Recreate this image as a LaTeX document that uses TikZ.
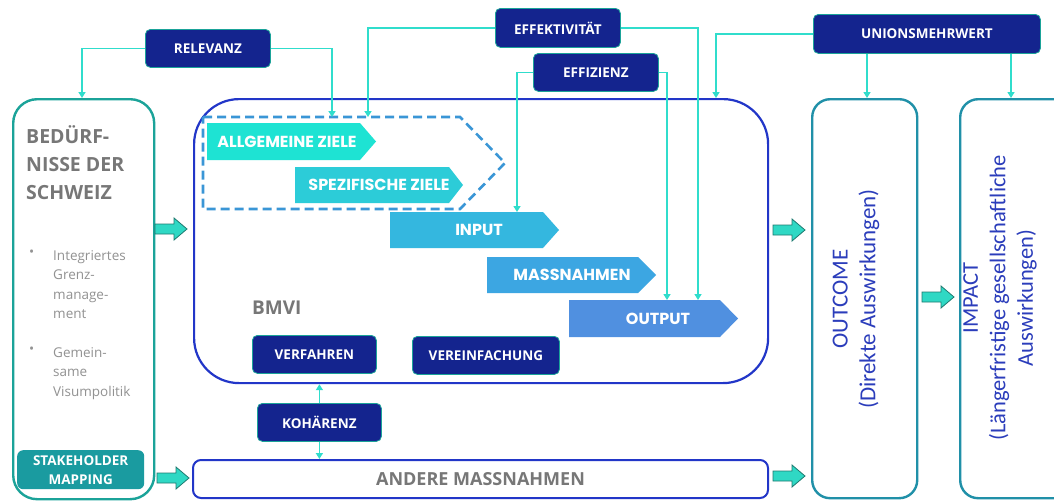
\documentclass[tikz,border=0pt]{standalone}
\usepackage{fontspec}
\setmainfont{Open Sans}
\newfontfamily\popp{Poppins}
\newfontfamily\carl{Carlito}
\usetikzlibrary{arrows.meta}
\definecolor{navy}{HTML}{14248E}
\definecolor{connc}{HTML}{30DDCC}
\definecolor{bmviblue}{HTML}{2236C8}
\definecolor{tealbox}{HTML}{1BA399}
\definecolor{outbox}{HTML}{2090A8}
\definecolor{txtgray}{HTML}{777777}
\definecolor{lgray}{HTML}{929292}
\definecolor{cA}{HTML}{1EE3D3}
\definecolor{cB}{HTML}{2CCCD8}
\definecolor{cC}{HTML}{34B7DF}
\definecolor{cD}{HTML}{3CA6E2}
\definecolor{cE}{HTML}{5090E0}
\definecolor{dashc}{HTML}{3A96D6}
\definecolor{stake}{HTML}{1A9BA0}
\definecolor{blockfill}{HTML}{2FD8C4}
\definecolor{blockline}{HTML}{1E7A70}
\definecolor{vtext}{HTML}{2B3DBB}
\tikzset{
 lbl/.style={draw=tealbox, line width=0.8pt, fill=navy, rounded corners=5pt, text=white,
   font=\bfseries\fontsize{13.5}{15}\selectfont, inner sep=0pt, anchor=north west, minimum height=38pt},
 bigbox/.style={line width=2.4pt, anchor=north west, inner sep=0pt},
 conn/.style={draw=connc, line width=1.8pt, -{Triangle[width=7pt,length=6pt]}},
 blockarrow/.style={fill=blockfill, draw=blockline, line width=0.8pt, line join=miter},
 chevtext/.style={text=white, font=\popp\bfseries\fontsize{16}{18}\selectfont, inner sep=0pt},
}
\newcommand\blockarr[2]{\filldraw[blockarrow, shift={(#1,#2)}] (-16,-5) -- (3,-5) -- (3,-11) -- (16,0) -- (3,11) -- (3,5) -- (-16,5) -- cycle;}
\begin{document}
\begin{tikzpicture}[x=1pt,y=-1pt]
\fill[white] (0,0) rectangle (1054,501);
\useasboundingbox (0,0) rectangle (1054,501);

% big boxes
\node[bigbox, draw=tealbox, minimum width=141pt, minimum height=400pt, rounded corners=24pt] (needs) at (12,98) {};
\node[bigbox, draw=bmviblue, line width=2.2pt, minimum width=574pt, minimum height=284pt, rounded corners=45pt] (bmvi) at (193,98) {};
\node[bigbox, draw=outbox, minimum width=105pt, minimum height=399pt, rounded corners=18pt] (outcome) at (811,98) {};
\node[bigbox, draw=outbox, minimum width=125pt, minimum height=399pt, rounded corners=18pt] (impact) at (959,98) {};
\node[bigbox, draw=bmviblue, line width=2pt, minimum width=575pt, minimum height=38pt, rounded corners=8pt,
  text=txtgray, font=\bfseries\fontsize{18}{20}\selectfont] (andere) at (192,459) {ANDERE MASSNAHMEN};

% left panel texts
\node[anchor=north west, align=left, inner sep=0pt, text=txtgray,
  font=\bfseries\fontsize{19.5}{28}\selectfont] (bedtxt) at (26,125) {BEDÜRF-\\NISSE DER\\SCHWEIZ};
\node[anchor=north west, align=left, inner sep=0pt, text=lgray,
  font=\fontsize{13.5}{19.5}\selectfont] (b1) at (53,250) {Integriertes\\Grenz-\\manage-\\ment};
\node[anchor=north west, inner sep=0pt, text=lgray, font=\fontsize{13.5}{19.5}\selectfont] (b1dot) at (29,250) {•};
\node[anchor=north west, align=left, inner sep=0pt, text=lgray,
  font=\fontsize{13.5}{19.5}\selectfont] (b2) at (53,347) {Gemein-\\same\\Visumpolitik};
\node[anchor=north west, inner sep=0pt, text=lgray, font=\fontsize{13.5}{19.5}\selectfont] (b2dot) at (29,347) {•};
\node[anchor=north west, fill=stake, rounded corners=6pt, minimum width=127pt, minimum height=39pt, inner sep=0pt,
  align=center, text=white, font=\bfseries\fontsize{13.5}{19}\selectfont] (stake) at (17,450) {STAKEHOLDER\\MAPPING};

% vertical texts
\node[rotate=90, align=center, inner sep=0pt, text=vtext, font=\carl\fontsize{23}{28}\selectfont] (octxt) at (856,299)
  {OUTCOME\\(Direkte Auswirkungen)};
\node[rotate=90, align=center, inner sep=0pt, text=vtext, font=\carl\fontsize{22.5}{27.5}\selectfont] (imtxt) at (1000,298)
  {IMPACT\\(Längerfristige gesellschaftliche\\Auswirkungen)};

% chevrons
\fill[cA] (207,123) -- (360,123) -- (376,141.5) -- (360,160) -- (207,160) -- cycle;
\node[chevtext] (allg) at (287,142) {ALLGEMEINE ZIELE};
\fill[cB] (295,167) -- (449,167) -- (463,185) -- (449,203) -- (295,203) -- cycle;
\node[chevtext] (spez) at (379,185) {SPEZIFISCHE ZIELE};
\fill[cC] (390,212) -- (543,212) -- (559,230) -- (543,248) -- (390,248) -- cycle;
\node[chevtext] (input) at (479,230) {INPUT};
\fill[cD] (487,257) -- (638,257) -- (656,275) -- (638,293) -- (487,293) -- cycle;
\node[chevtext] (massn) at (572,275) {MASSNAHMEN};
\fill[cE] (569,300) -- (720,300) -- (738,318.5) -- (720,337) -- (569,337) -- cycle;
\node[chevtext] (output) at (658,318.5) {OUTPUT};

% dashed outline around objectives
\draw[dashc, line width=2.6pt, dash pattern=on 9pt off 5pt] (203,117) -- (460,117) -- (505,163) -- (460,209) -- (203,209) -- cycle;

% BMVI label and inner boxes
\node[anchor=west, inner sep=0pt, text=txtgray, font=\bfseries\fontsize{19}{22}\selectfont] (bmvilbl) at (252,308) {BMVI};
\node[lbl, minimum width=124pt] (verf) at (252,335) {VERFAHREN};
\node[lbl, minimum width=147pt] (vereinf) at (412,336) {VEREINFACHUNG};
\node[lbl, minimum width=124pt] (koh) at (257,403) {KOHÄRENZ};

% criteria boxes
\node[lbl, minimum width=125pt] (relevanz) at (145,29) {RELEVANZ};
\node[lbl, minimum width=125pt, minimum height=39pt] (effekt) at (495,8) {EFFEKTIVITÄT};
\node[lbl, minimum width=125pt] (effiz) at (533,53) {EFFIZIENZ};
\node[lbl, minimum width=227pt, minimum height=39pt] (union) at (813,14) {UNIONSMEHRWERT};

% connector end points
\coordinate (relL) at (82,98);
\coordinate (dashA) at (332,117);
\coordinate (dashB) at (368,117);
\coordinate (inTop) at (517,212);
\coordinate (outTopA) at (667,300);
\coordinate (outTopB) at (698,300);
\coordinate (bmviTop) at (716,98);
\coordinate (ocTop) at (867,98);
\coordinate (imTop) at (1011,98);

\draw[conn] (relevanz.west) -| (relL);
\draw[conn] (relevanz.east) -| (dashA);
\draw[conn] (effekt.west) -| (dashB);
\draw[conn] (effekt.east) -| (outTopB);
\draw[conn] (effiz.west) -| (inTop);
\draw[conn] (effiz.east) -| (outTopA);
\draw[conn] (union.west) -| (bmviTop);
\draw[conn] (union.south -| ocTop) -- (ocTop);
\draw[conn] (union.south -| imTop) -- (imTop);
\draw[conn] (koh.north) -- (koh.north |- bmvi.south);
\draw[conn] (koh.south) -- (koh.south |- andere.north);

% block arrows
\blockarr{171}{229}
\blockarr{173}{478}
\blockarr{789}{230}
\blockarr{789}{476}
\blockarr{938}{297}
\end{tikzpicture}
\end{document}
